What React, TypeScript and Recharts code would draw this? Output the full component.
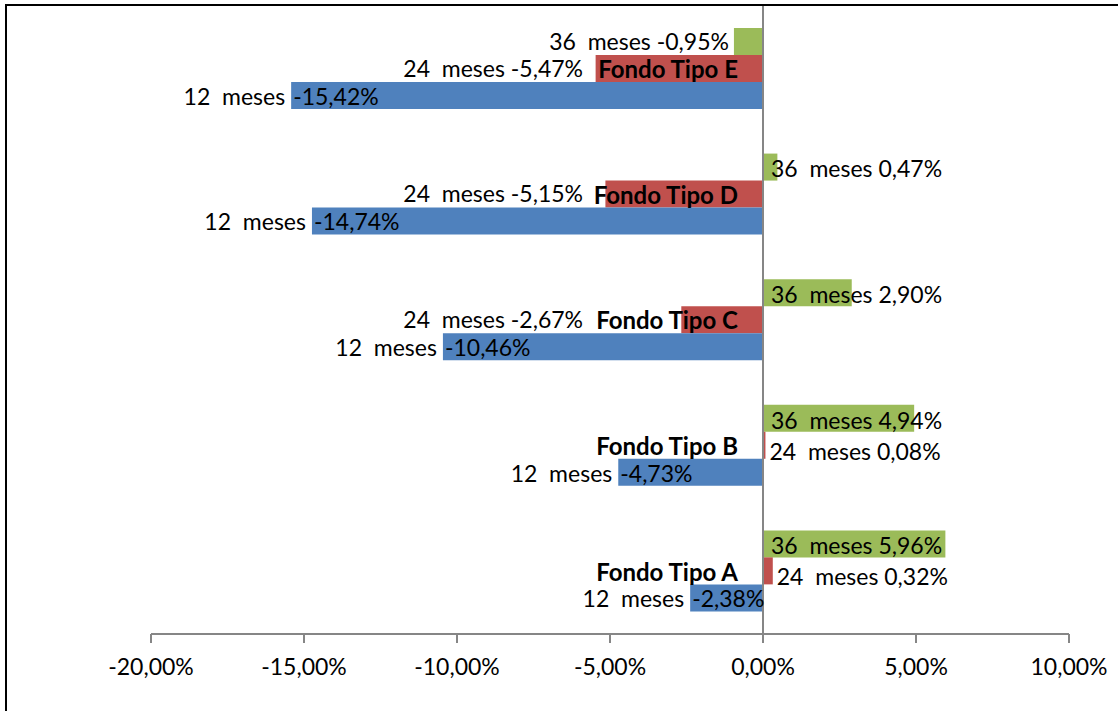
import React from 'react';
import { BarChart, Bar, XAxis, YAxis, ReferenceLine, LabelList } from 'recharts';

// datos de rentabilidad por fondo (en %)
const fondos = ['Fondo Tipo A', 'Fondo Tipo B', 'Fondo Tipo C', 'Fondo Tipo D', 'Fondo Tipo E'];
const meses12 = [-2.38, -4.73, -10.46, -14.74, -15.42];
const meses24 = [0.32, 0.08, -2.67, -5.15, -5.47];
const meses36 = [5.96, 4.94, 2.9, 0.47, -0.95];
const xTicks = [-20, -15, -10, -5, 0, 5, 10];
const xDomain: [number, number] = [-20, 10];

const W = 1118;
const H = 711;
const M = { top: 6, right: 49, bottom: 17, left: 151 };
const X_AXIS_H = 60;
const PLOT_W = W - M.left - M.right;
const PLOT_H = H - M.top - M.bottom - X_AXIS_H;
const BAND = PLOT_H / fondos.length;
// posicion del 0 en pixeles (donde cruza el eje vertical)
const X0 = M.left + (PLOT_W * (0 - xDomain[0])) / (xDomain[1] - xDomain[0]);

const FONT = 'Lato, "Liberation Sans", sans-serif';
const FS = 23;

const data = fondos.map((f, i) => ({ fondo: f, m12: meses12[i], m24: meses24[i], m36: meses36[i] }));

const fmt = (v: number) => `${v.toFixed(2).replace('.', ',')}%`;

const geo = (p: any) => {
  const x = Number(p.x);
  const w = Number(p.width);
  const y = Number(p.y);
  const h = Number(p.height);
  return { left: Math.min(x, x + w), right: Math.max(x, x + w), cy: y + h / 2 };
};

const txt = { fontFamily: FONT, fontSize: FS, fill: '#000', whiteSpace: 'pre' as const };

const Label12 = (p: any) => {
  const { left, cy } = geo(p);
  const v = Number(p.value);
  return (
    <g>
      <text x={left - 6} y={cy + 1} dy="0.36em" textAnchor="end" style={txt}>12  meses</text>
      <text x={left + 2} y={cy + 1} dy="0.36em" textAnchor="start" style={txt}>{fmt(v)}</text>
    </g>
  );
};

const Label24 = (p: any) => {
  const { left, right, cy } = geo(p);
  const v = Number(p.value);
  if (v >= 0) {
    return (
      <text x={right + 4} y={cy + 6} dy="0.36em" textAnchor="start" style={txt}>{`24  meses ${fmt(v)}`}</text>
    );
  }
  return (
    <text x={Math.min(left - 10, X0 - 180)} y={cy} dy="0.36em" textAnchor="end" style={txt}>{`24  meses ${fmt(v)}`}</text>
  );
};

const Label36 = (p: any) => {
  const { left, cy } = geo(p);
  const v = Number(p.value);
  if (v >= 0) {
    return (
      <text x={X0 + 8} y={cy + 2} dy="0.36em" textAnchor="start" style={txt}>{`36  meses ${fmt(v)}`}</text>
    );
  }
  return (
    <text x={left - 5} y={cy} dy="0.36em" textAnchor="end" style={txt}>{`36  meses ${fmt(v)}`}</text>
  );
};

const LabelFondo = (p: any) => {
  const { cy } = geo(p);
  return (
    <text x={X0 - 25} y={cy + 1} dy="0.36em" textAnchor="end" style={{ ...txt, fontSize: 24, fontWeight: 700 }}>{p.value}</text>
  );
};

// marcas del eje de categorias, entre fondos
const CatTick = (p: any) => {
  const y = Number(p.y) - BAND / 2;
  return <line x1={X0 - 8} x2={X0} y1={y} y2={y} stroke="#868686" strokeWidth={2} />;
};

export default function App() {
  return (
    <div style={{ position: 'absolute', left: 0, top: 0, width: W, height: H, overflow: 'hidden', background: '#fff' }}>
      <div style={{ position: 'absolute', left: 5, top: 4, width: 1300, height: 900, border: '2px solid #000' }} />
      <div style={{ position: 'absolute', left: 0, top: 0 }}>
        <BarChart
          width={W}
          height={H}
          data={data}
          layout="vertical"
          margin={M}
          barCategoryGap="17.5%"
          barGap={0}
        >
          <XAxis
            type="number"
            domain={xDomain}
            ticks={xTicks}
            tickFormatter={fmt}
            interval={0}
            height={X_AXIS_H}
            axisLine={{ stroke: '#868686', strokeWidth: 2 }}
            tickLine={{ stroke: '#868686', strokeWidth: 2 }}
            tickSize={9}
            tickMargin={16}
            tick={{ fontFamily: FONT, fontSize: FS, fill: '#000' }}
            allowDataOverflow
          />
          <YAxis
            type="category"
            dataKey="fondo"
            reversed
            width={0}
            axisLine={false}
            tickLine={false}
            tick={<CatTick />}
            interval={0}
          />
          <Bar dataKey="m36" fill="#9BBB59" isAnimationActive={false}>
            <LabelList dataKey="m36" content={<Label36 />} />
          </Bar>
          <Bar dataKey="m24" fill="#C0504D" isAnimationActive={false}>
            <LabelList dataKey="m24" content={<Label24 />} />
            <LabelList dataKey="fondo" content={<LabelFondo />} />
          </Bar>
          <Bar dataKey="m12" fill="#4F81BD" isAnimationActive={false}>
            <LabelList dataKey="m12" content={<Label12 />} />
          </Bar>
          <ReferenceLine x={0} stroke="#868686" strokeWidth={2} />
        </BarChart>
      </div>
    </div>
  );
}
